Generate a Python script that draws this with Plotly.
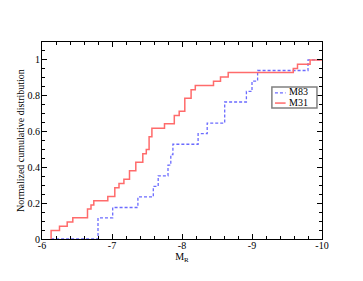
import plotly.graph_objects as go

# M31 cumulative distribution (step locations in M_R and cumulative fraction after step)
m31_mag = [-6.13, -6.13, -6.25, -6.36, -6.44, -6.65, -6.70, -6.74, -6.94, -7.04, -7.10,
           -7.17, -7.25, -7.34, -7.44, -7.49, -7.53, -7.57, -7.75, -7.89, -7.96,
           -8.04, -8.13, -8.19, -8.45, -8.55, -8.66, -9.59, -9.65, -9.83, -10.0]
m31_cdf = [0.0, 0.048, 0.071, 0.095, 0.119, 0.167, 0.190, 0.214, 0.238, 0.286, 0.310,
           0.333, 0.381, 0.429, 0.476, 0.500, 0.571, 0.619, 0.643, 0.690, 0.714,
           0.786, 0.833, 0.857, 0.881, 0.905, 0.929, 0.952, 0.976, 1.0, 1.0]

# M83 cumulative distribution
m83_mag = [-6.13, -6.80, -7.01, -7.37, -7.59, -7.66, -7.80, -7.84, -7.87, -8.23,
           -8.36, -8.61, -8.92, -9.00, -9.08, -9.80, -10.0]
m83_cdf = [0.0, 0.118, 0.176, 0.235, 0.294, 0.353, 0.412, 0.471, 0.529, 0.588,
           0.647, 0.765, 0.824, 0.882, 0.941, 1.0, 1.0]

series_names = ["M83", "M31"]
x_ticks = [-6, -7, -8, -9, -10]
y_ticks = [0, 0.2, 0.4, 0.6, 0.8, 1]

FONT = "Liberation Serif, Times New Roman, serif"
BLUE = "#6b6bff"
RED = "#ff6b6b"

fig = go.Figure()
fig.add_trace(go.Scatter(x=m83_mag, y=m83_cdf, mode="lines", name=series_names[0],
                         line=dict(color=BLUE, width=1.3, dash="3px,2px", shape="hv")))
fig.add_trace(go.Scatter(x=m31_mag, y=m31_cdf, mode="lines", name=series_names[1],
                         line=dict(color=RED, width=1.5, shape="hv")))

axis_common = dict(showline=True, linecolor="black", linewidth=1, mirror="ticks",
                   ticks="inside", ticklen=5, tickcolor="black", tickwidth=1,
                   showgrid=False, zeroline=False, automargin=False,
                   tickfont=dict(family=FONT, size=10, color="black"))

fig.update_xaxes(range=[-6, -10], tickvals=x_ticks, ticktext=[str(v) for v in x_ticks],
                 minor=dict(dtick=0.2, tick0=-6, ticks="inside", ticklen=3, tickcolor="black"),
                 ticklabelstandoff=-3,
                 title=dict(text="M<sub>R</sub>", font=dict(family=FONT, size=10, color="black"), standoff=0),
                 **axis_common)
fig.update_yaxes(range=[0, 1.1], tickvals=y_ticks, ticktext=["0", "0.2", "0.4", "0.6", "0.8", "1"],
                 minor=dict(dtick=0.05, tick0=0, ticks="inside", ticklen=3, tickcolor="black"),
                 ticklabelstandoff=-1,
                 title=dict(text="Normalized cumulative distribution",
                            font=dict(family=FONT, size=10, color="black"), standoff=1),
                 **axis_common)

# Legend box drawn in paper coordinates (xmgrace style)
legend_box = dict(x0=0.821, x1=0.982, y0=0.665, y1=0.772)
entry_y = [0.742, 0.690]
fig.add_shape(type="rect", xref="paper", yref="paper", **legend_box,
              line=dict(color="#808080", width=1.5), fillcolor="white", layer="above")
for name, color, dash, yy in [(series_names[0], BLUE, "3px,2px", entry_y[0]),
                              (series_names[1], RED, "solid", entry_y[1])]:
    fig.add_shape(type="line", xref="paper", yref="paper", x0=0.832, x1=0.870, y0=yy, y1=yy,
                  line=dict(color=color, width=1.5 if dash == "solid" else 1.3, dash=dash), layer="above")
    fig.add_annotation(xref="paper", yref="paper", x=0.875, y=yy + 0.005, text=name,
                       showarrow=False, xanchor="left", yanchor="middle",
                       font=dict(family=FONT, size=10, color="black"))

# the page body adds an 8px offset; size the figure to fit the window exactly
fig.update_layout(
    width=355, height=273,
    margin=dict(l=34, r=41, t=34, b=42),
    paper_bgcolor="white", plot_bgcolor="white",
    font=dict(family=FONT, size=10, color="black"),
    showlegend=False,
)

fig.write_html("out.html")
